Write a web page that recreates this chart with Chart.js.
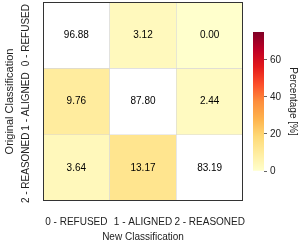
<!DOCTYPE html>
<html>
<head>
<meta charset="utf-8">
<script src="https://cdn.jsdelivr.net/npm/chart.js@4.4.1/dist/chart.umd.min.js"></script>
<style>
  html, body { margin: 0; padding: 0; background: #fff; }
  #wrap { position: relative; width: 303px; height: 244px; }
  #wrap canvas { position: absolute; top: 0; }
</style>
</head>
<body>
<div id="wrap">
  <canvas id="heat" width="303" height="244" style="left:0"></canvas>
  <canvas id="cbar" width="58" height="244" style="left:245px"></canvas>
</div>
<script>
// categories
const newLabels = ['0 - REFUSED', '1 - ALIGNED', '2 - REASONED'];
const origLabels = ['0 - REFUSED', '1 - ALIGNED', '2 - REASONED'];

// percentages, one array per original class (row)
const rowRefused = [96.88, 3.12, 0.00];
const rowAligned = [9.76, 87.80, 2.44];
const rowReasoned = [3.64, 13.17, 83.19];
const rows = [rowRefused, rowAligned, rowReasoned];

// colour bar
const colorTicks = [0, 20, 40, 60];
const colorMax = 75;

Chart.defaults.font.family = '"Liberation Sans", Arial, sans-serif';
Chart.defaults.font.size = 10;
Chart.defaults.color = '#222';

// YlOrRd
const ylorrd = ['#ffffcc', '#ffeda0', '#fed976', '#feb24c', '#fd8d3c', '#fc4e2a', '#e31a1c', '#bd0026', '#800026'];

function hexRgb(h) {
  return [parseInt(h.slice(1, 3), 16), parseInt(h.slice(3, 5), 16), parseInt(h.slice(5, 7), 16)];
}

function cmap(v) {
  let t = Math.max(0, Math.min(1, v / colorMax)) * (ylorrd.length - 1);
  let i = Math.min(Math.floor(t), ylorrd.length - 2);
  let f = t - i;
  let a = hexRgb(ylorrd[i]), b = hexRgb(ylorrd[i + 1]);
  let c = a.map((x, k) => Math.round(x + (b[k] - x) * f));
  return 'rgb(' + c.join(',') + ')';
}

// diagonal is masked (drawn white)
const datasets = rows.map((vals, r) => ({
  label: origLabels[r],
  data: vals.map(() => [r, r + 1]),
  values: vals,
  backgroundColor: vals.map((v, c) => (c === r ? '#ffffff' : cmap(v))),
  borderColor: '#d8d8d8',
  borderWidth: 0.6,
  borderSkipped: false,
  grouped: false,
  barPercentage: 1,
  categoryPercentage: 1
}));

const cellText = {
  id: 'cellText',
  afterDatasetsDraw(chart) {
    const ctx = chart.ctx;
    ctx.save();
    ctx.font = '10px "Liberation Sans", Arial, sans-serif';
    ctx.fillStyle = '#000';
    ctx.textAlign = 'center';
    ctx.textBaseline = 'middle';
    chart.data.datasets.forEach((ds, i) => {
      chart.getDatasetMeta(i).data.forEach((bar, j) => {
        const p = bar.getCenterPoint();
        ctx.fillText(ds.values[j].toFixed(2), p.x, p.y);
      });
    });
    ctx.restore();
  }
};

const frame = {
  id: 'frame',
  afterDraw(chart) {
    const a = chart.chartArea;
    const ctx = chart.ctx;
    ctx.save();
    ctx.strokeStyle = '#333';
    ctx.lineWidth = 1;
    ctx.strokeRect(a.left + 0.5, a.top + 0.5, a.right - a.left - 1, a.bottom - a.top - 1);
    ctx.restore();
  }
};

new Chart(document.getElementById('heat'), {
  type: 'bar',
  data: { labels: newLabels, datasets: datasets },
  options: {
    responsive: false,
    animation: false,
    layout: { padding: { top: 2, right: 60, left: 0, bottom: 0 } },
    plugins: { legend: { display: false }, tooltip: { enabled: false } },
    scales: {
      x: {
        grid: { display: false, drawTicks: false },
        border: { display: false },
        afterFit: (scale) => { scale.height = 43; },
        ticks: { padding: 15, maxRotation: 0, autoSkip: false, color: '#222' },
        title: { display: true, text: 'New Classification', color: '#222', padding: { top: 3, bottom: 1 } }
      },
      y: {
        min: 0,
        max: 3,
        reverse: true,
        grid: { display: false, drawTicks: false },
        border: { display: false },
        afterBuildTicks: (scale) => {
          scale.ticks = origLabels.map((_, i) => ({ value: i + 0.5 }));
        },
        afterFit: (scale) => { scale.width = 43; },
        ticks: {
          autoSkip: false,
          minRotation: 90,
          maxRotation: 90,
          crossAlign: 'center',
          padding: -19,
          color: '#222',
          callback: (v, i) => origLabels[i]
        },
        title: { display: true, text: 'Original Classification', color: '#222', font: { size: 11 }, padding: { top: 3, bottom: 0 } }
      }
    }
  },
  plugins: [cellText, frame]
});

// colour bar: one bar filled with the colormap gradient
new Chart(document.getElementById('cbar'), {
  type: 'bar',
  data: {
    labels: [''],
    datasets: [{
      data: [colorMax],
      borderWidth: 0,
      barPercentage: 1,
      categoryPercentage: 1,
      backgroundColor: (ctx) => {
        const a = ctx.chart.chartArea;
        if (!a) return ylorrd[0];
        const g = ctx.chart.ctx.createLinearGradient(0, a.bottom, 0, a.top);
        ylorrd.forEach((c, i) => g.addColorStop(i / (ylorrd.length - 1), c));
        return g;
      }
    }]
  },
  options: {
    responsive: false,
    animation: false,
    layout: { padding: { top: 32, bottom: 73, left: 8, right: 0 } },
    plugins: { legend: { display: false }, tooltip: { enabled: false } },
    scales: {
      x: { display: false },
      y: {
        position: 'right',
        min: 0,
        max: colorMax,
        afterBuildTicks: (scale) => {
          scale.ticks = colorTicks.map((v) => ({ value: v }));
        },
        afterFit: (scale) => { scale.width = 39; },
        grid: { drawOnChartArea: false, drawTicks: true, tickLength: 3, color: '#666' },
        border: { display: false },
        ticks: { padding: 3, color: '#222' },
        title: { display: true, text: 'Percentage [%]', color: '#222', padding: { top: 4, bottom: 2 } }
      }
    }
  }
});
</script>
</body>
</html>
